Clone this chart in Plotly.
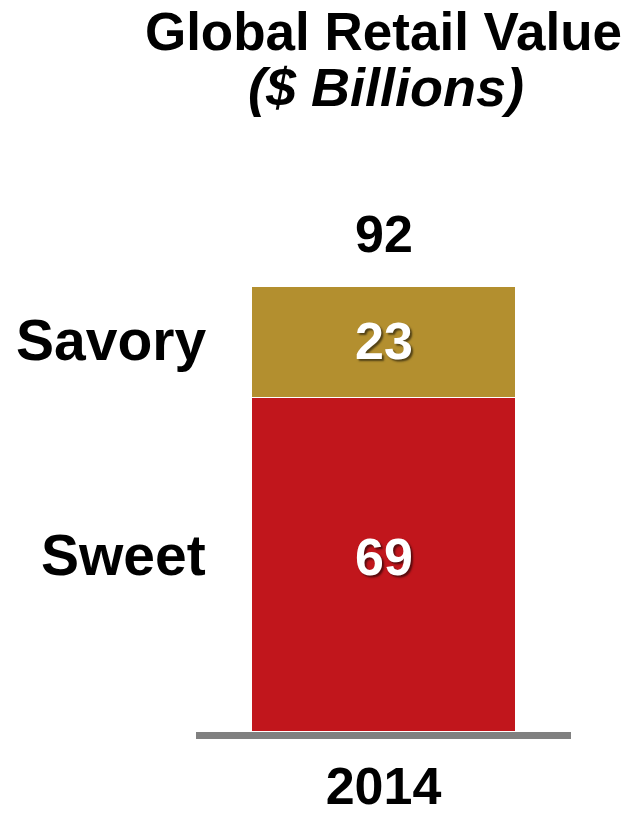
import plotly.graph_objects as go

# Data
years = ["2014"]
segments = ["Sweet", "Savory"]
segment_values = {"Sweet": [69], "Savory": [23]}
totals = [92]
segment_colors = {"Sweet": "#C1161C", "Savory": "#B38F2F"}

# Canvas geometry (pixels)
W, H = 628, 816
PLOT_BOTTOM = 732          # y pixel of the zero line
PX_PER_UNIT = 446 / 92     # vertical scale
Y_MAX = PLOT_BOTTOM / PX_PER_UNIT

FONT = "Liberation Sans, Arial, sans-serif"

# small vertical nudges (px) for the segment labels
name_shift = {"Sweet": 10, "Savory": 2}
value_shift = {"Sweet": 8, "Savory": 1}

# position of each category on the (category) x axis
cat_pos = {yr: i for i, yr in enumerate(years)}


def paper_y(px):
    """Convert a pixel row (from top) to paper y for the plot area."""
    return (PLOT_BOTTOM - px) / PLOT_BOTTOM


fig = go.Figure()
for seg in segments:
    fig.add_trace(go.Bar(
        x=years,
        y=segment_values[seg],
        name=seg,
        width=1.0,
        marker=dict(color=segment_colors[seg], line=dict(color="white", width=1.5)),
        hoverinfo="skip",
    ))

annotations = []
cum = 0
for seg in segments:
    v = segment_values[seg][0]
    mid = cum + v / 2
    # segment name on the left
    annotations.append(dict(
        x=208 / W, xref="paper", xanchor="right",
        y=mid, yref="y", yanchor="middle", yshift=name_shift[seg],
        text=seg, showarrow=False,
        font=dict(family=FONT, size=57, color="black", weight="bold"),
    ))
    # value inside the segment
    annotations.append(dict(
        x=cat_pos[years[0]], xref="x", xanchor="center",
        y=mid, yref="y", yanchor="middle", yshift=value_shift[seg],
        text=str(v), showarrow=False,
        font=dict(family=FONT, size=52, color="white", weight="bold",
                  shadow="2px 2px 2px rgba(0,0,0,0.55)"),
    ))
    cum += v

# Total above the stack
annotations.append(dict(
    x=cat_pos[years[0]], xref="x", xanchor="center",
    y=totals[0], yref="y", yanchor="middle", yshift=52,
    text=str(totals[0]), showarrow=False,
    font=dict(family=FONT, size=52, color="black", weight="bold"),
))

# Second title line
annotations.append(dict(
    x=386 / W, xref="paper", xanchor="center",
    y=paper_y(87), yref="paper", yanchor="middle",
    text="<i>($ Billions)</i>", showarrow=False,
    font=dict(family=FONT, size=54, color="black", weight="bold"),
))

fig.update_layout(
    width=W, height=H,
    barmode="stack",
    showlegend=False,
    plot_bgcolor="white", paper_bgcolor="white",
    margin=dict(l=0, r=0, t=0, b=H - PLOT_BOTTOM, pad=0, autoexpand=False),
    title=dict(
        text="Global Retail Value",
        x=383.5 / W, xanchor="center", xref="paper",
        y=1 - 31 / H, yref="container", yanchor="middle",
        font=dict(family=FONT, size=53, color="black", weight="bold"),
    ),
    xaxis=dict(
        type="category",
        domain=[196 / W, 571 / W],
        range=[-0.7075, 0.7075],
        showline=True, linewidth=7, linecolor="#808080",
        ticks="", showgrid=False, zeroline=False,
        automargin=False,
        tickfont=dict(family=FONT, size=52, color="black", weight="bold"),
        ticklabelstandoff=3,
    ),
    yaxis=dict(
        range=[0, Y_MAX],
        visible=False,
        automargin=False,
    ),
    annotations=annotations,
)

fig.write_html("out.html")
